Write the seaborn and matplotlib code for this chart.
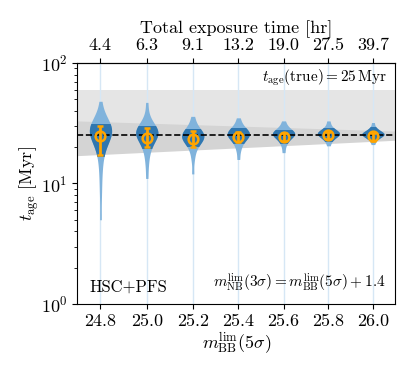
import numpy as np
import pandas as pd
import matplotlib
matplotlib.use("Agg")
import matplotlib.pyplot as plt
import matplotlib.patches as mpatches
import seaborn as sns

# limiting magnitudes and matching exposure times (top axis)
mag = [24.8, 25.0, 25.2, 25.4, 25.6, 25.8, 26.0]
exptime = ["4.4", "6.3", "9.1", "13.2", "19.0", "27.5", "39.7"]

# posterior quantile samples of t_age [Myr]
post = [
    [5, 8, 11, 14, 16.5, 18.5, 20.5, 22, 23.2, 24.2, 25, 25.7, 26.3, 26.9, 27.4, 27.9,
     28.4, 28.9, 29.4, 30, 30.7, 31.6, 33, 36, 48],
    [11, 14, 16.5, 18.5, 20, 21.3, 22.3, 23.2, 24, 24.6, 25.2, 25.7, 26.2, 26.7, 27.2,
     27.8, 28.4, 29.1, 30, 31.2, 33, 37, 47],
    [12, 15.5, 17.8, 19.5, 20.7, 21.6, 22.3, 22.9, 23.4, 23.9, 24.3, 24.7, 25.1, 25.6,
     26.1, 26.7, 27.4, 28.3, 29.6, 32, 36],
    [15.8, 18.5, 20.3, 21.6, 22.6, 23.4, 24, 24.5, 25, 25.4, 25.8, 26.2, 26.7, 27.2,
     27.8, 28.6, 29.7, 31.5, 35],
    [18, 20.3, 21.8, 22.8, 23.6, 24.2, 24.7, 25.1, 25.5, 25.8, 26.1, 26.5, 26.9, 27.4,
     28, 28.9, 30.3, 33],
    [20.5, 22, 23, 23.7, 24.2, 24.6, 25, 25.3, 25.6, 25.9, 26.2, 26.5, 26.8, 27.1,
     27.6, 28.2, 29, 30.5, 33],
    [21, 22.3, 23.2, 23.8, 24.2, 24.6, 24.9, 25.2, 25.4, 25.6, 25.9, 26.1, 26.4, 26.7,
     27.1, 27.6, 28.3, 29.5, 32],
]
# darker inner part of each violin
dark_lo = [17.0, 19.8, 20.4, 21.8, 21.8, 22.5, 23.4]
dark_hi = [31.0, 30.1, 28.2, 29.0, 28.0, 28.6, 29.2]

# median and error bars
med = [24.7, 23.7, 23.3, 24.2, 24.5, 25.0, 24.7]
err_lo = [17.3, 19.9, 20.2, 22.0, 22.7, 23.4, 22.7]
err_hi = [29.7, 28.9, 27.1, 26.6, 26.1, 26.6, 26.1]

t_true = 25
band_x = [24.7, 26.1]
band_top = [60, 60]
wedge_lo = [17.0, 22.8]
wedge_hi = [33.0, 27.2]

df = pd.DataFrame({
    "mag": np.repeat(mag, [len(p) for p in post]),
    "tage": np.concatenate(post),
})

plt.rcParams["font.family"] = "serif"
plt.rcParams["font.serif"] = ["cmr10"]
plt.rcParams["mathtext.fontset"] = "cm"
plt.rcParams["axes.formatter.use_mathtext"] = True
plt.rcParams["axes.unicode_minus"] = False

fig = plt.figure(figsize=(4.15, 3.74), dpi=100)
ax = fig.add_axes([0.186, 0.187, 0.766, 0.645])

# grey bands
ax.fill_between(band_x, [t_true, t_true], band_top, color="#e5e5e5", lw=0, zorder=0)
ax.fill_between(band_x, wedge_lo, wedge_hi, color="#d4d4d4", lw=0, zorder=0.1)

# faint full-height lines at each position
ax.vlines(mag, 0, 1, transform=ax.get_xaxis_transform(), color="#d6e7f5", lw=1, zorder=0.5)

# light violins
vkw = dict(data=df, x="mag", y="tage", orient="x", native_scale=True,
           log_scale=True, density_norm="width", width=0.5, cut=0,
           bw_adjust=0.8, inner=None, linewidth=0, saturation=1, ax=ax)
sns.violinplot(color="#80b3dc", **vkw)
n0 = len(ax.collections)

# dark violins, clipped to the central range
sns.violinplot(color="#3077b0", **vkw)
for coll in ax.collections[n0:]:
    xc = np.mean(coll.get_paths()[0].vertices[:, 0])
    i = int(np.argmin(np.abs(np.array(mag) - xc)))
    rect = mpatches.Rectangle((mag[i] - 0.1, dark_lo[i]), 0.2,
                              dark_hi[i] - dark_lo[i], transform=ax.transData)
    coll.set_clip_path(rect)

ax.axhline(t_true, ls="--", color="k", lw=1.2, zorder=3)

med_a = np.array(med)
ax.errorbar(mag, med, yerr=[med_a - np.array(err_lo), np.array(err_hi) - med_a],
            fmt="o", mfc="none", mec="orange", ecolor="orange", ms=7, mew=1.8,
            elinewidth=2, capsize=2.5, capthick=1.5, zorder=4)

ax.set_yscale("log")
ax.set_ylim(1, 100)
ax.set_xlim(24.7, 26.1)
ax.set_xticks(mag)
ax.set_xticklabels([f"{m:.1f}" for m in mag])
ax.tick_params(labelsize=13)
ax.set_xlabel(r"$m_{\rm BB}^{\rm lim}(5\sigma)$", fontsize=13, labelpad=1)
ax.set_ylabel(r"$t_{\rm age}$ [Myr]", fontsize=13, labelpad=0)

top = ax.secondary_xaxis("top")
top.set_xticks(mag)
top.set_xticklabels(exptime)
top.tick_params(labelsize=13)
top.set_xlabel("Total exposure time [hr]", fontsize=13, labelpad=3)
top.xaxis.get_offset_text().set_visible(False)

ax.text(0.975, 0.98, r"$t_{\rm age}({\rm true}) = 25\,{\rm Myr}$", transform=ax.transAxes,
        ha="right", va="top", fontsize=11)
ax.text(0.04, 0.04, "HSC+PFS", transform=ax.transAxes, ha="left", va="bottom", fontsize=12)
ax.text(0.97, 0.04, r"$m_{\rm NB}^{\rm lim}(3\sigma) = m_{\rm BB}^{\rm lim}(5\sigma) + 1.4$",
        transform=ax.transAxes, ha="right", va="bottom", fontsize=11)

fig.savefig("out.png", dpi=100)
